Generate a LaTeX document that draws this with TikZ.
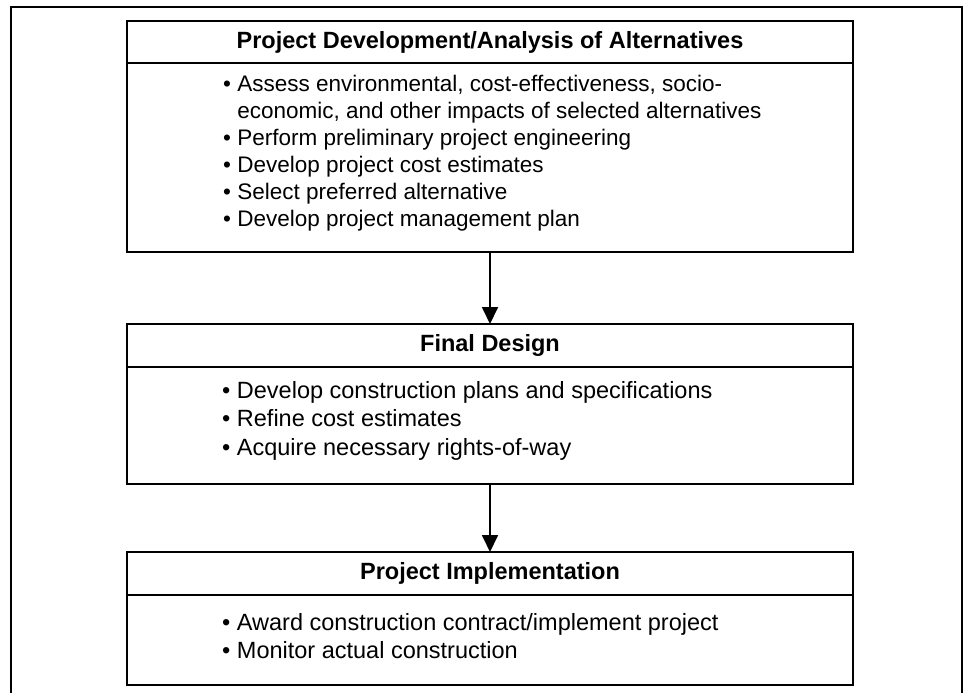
\documentclass[tikz,border=0pt]{standalone}
\usepackage{fontspec}
\setmainfont{Liberation Sans}
\usetikzlibrary{arrows.meta}

\tikzset{
	headbox/.style={draw, line width=1.7pt, minimum width=726pt, minimum height=42pt, inner sep=0pt, outer sep=0pt, font=\bfseries\fontsize{23.5}{27}\selectfont},
	listbox/.style={draw, line width=1.7pt, minimum width=726pt, inner sep=0pt, outer sep=0pt},
	itemtext/.style={align=left, anchor=north west, inner sep=0pt, font=\fontsize{23.5}{28.5}\selectfont},
	flow/.style={line width=1.8pt, -{Triangle[length=17pt,width=16pt]}}
}

\begin{document}
\begin{tikzpicture}[x=1pt,y=-1pt]
					\useasboundingbox (0,0) rectangle (973,693);
					%Frame
					\draw[line width=1.7pt] (11,693)--(11,7)--(962,7)--(962,693);
					%Box 1
					\node[headbox] (head1) at (490,42) {Project Development/Analysis of Alternatives};
					\node[listbox, minimum height=189pt] (list1) at (490,157.5) {};
					\node[itemtext, font=\fontsize{22.5}{27}\selectfont] (items1) at (223,75) {• Assess environmental, cost-effectiveness, socio-\\
						\phantom{•}\ economic, and other impacts of selected alternatives\\
						• Perform preliminary project engineering\\
						• Develop project cost estimates\\
						• Select preferred alternative\\
						• Develop project management plan};
					%Box 2
					\node[headbox, minimum height=43pt] (head2) at (490,345.5) {Final Design};
					\node[listbox, minimum height=117pt] (list2) at (490,425.5) {};
					\node[itemtext] (items2) at (222,381) {• Develop construction plans and specifications\\
						• Refine cost estimates\\
						• Acquire necessary rights-of-way};
					%Box 3
					\node[headbox, minimum height=43pt] (head3) at (490,573.5) {Project Implementation};
					\node[listbox, minimum height=90pt] (list3) at (490,640) {};
					\node[itemtext, font=\fontsize{23.5}{28}\selectfont] (items3) at (222,613) {• Award construction contract/implement project\\
						• Monitor actual construction};
					%Arrows
					\draw[flow] (list1.south)--(head2.north);
					\draw[flow] (list2.south)--(head3.north);
\end{tikzpicture}
\end{document}
